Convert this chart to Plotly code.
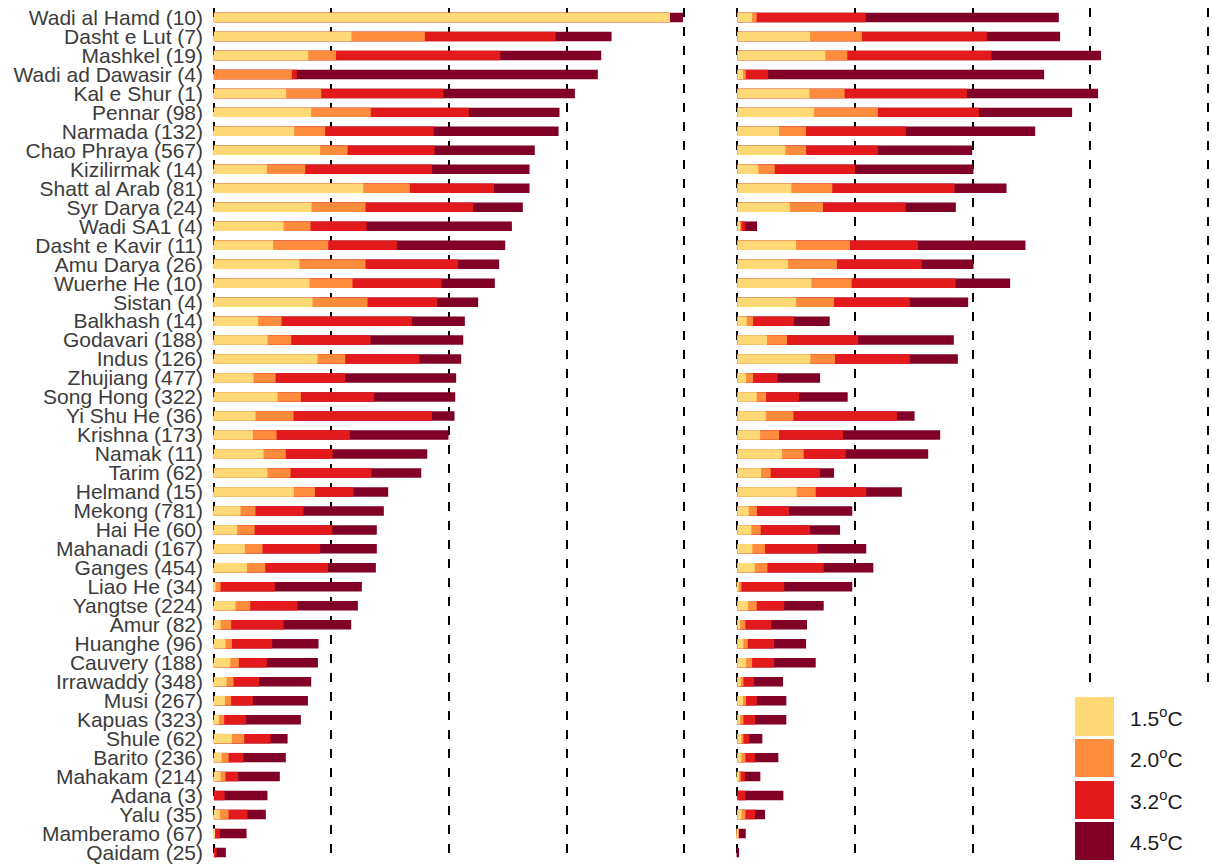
import plotly.graph_objects as go

# Basin names with number of sub-units, top to bottom
basins = [
    "Wadi al Hamd (10)", "Dasht e Lut (7)", "Mashkel (19)", "Wadi ad Dawasir (4)",
    "Kal e Shur (1)", "Pennar (98)", "Narmada (132)", "Chao Phraya (567)",
    "Kizilirmak (14)", "Shatt al Arab (81)", "Syr Darya (24)", "Wadi SA1 (4)",
    "Dasht e Kavir (11)", "Amu Darya (26)", "Wuerhe He (10)", "Sistan (4)",
    "Balkhash (14)", "Godavari (188)", "Indus (126)", "Zhujiang (477)",
    "Song Hong (322)", "Yi Shu He (36)", "Krishna (173)", "Namak (11)",
    "Tarim (62)", "Helmand (15)", "Mekong (781)", "Hai He (60)",
    "Mahanadi (167)", "Ganges (454)", "Liao He (34)", "Yangtse (224)",
    "Amur (82)", "Huanghe (96)", "Cauvery (188)", "Irrawaddy (348)",
    "Musi (267)", "Kapuas (323)", "Shule (62)", "Barito (236)",
    "Mahakam (214)", "Adana (3)", "Yalu (35)", "Mamberamo (67)", "Qaidam (25)",
]

# Left panel: value reached at each warming level
left_15 = [3.88, 1.171, 0.802, 0.0, 0.615, 0.828, 0.683, 0.904, 0.451, 1.270,
           0.831, 0.593, 0.505, 0.729, 0.814, 0.839, 0.377, 0.456, 0.882, 0.337,
           0.542, 0.354, 0.332, 0.422, 0.456, 0.680, 0.227, 0.198, 0.264, 0.281,
           0.014, 0.184, 0.057, 0.099, 0.139, 0.108, 0.094, 0.043, 0.153, 0.065,
           0.057, 0.0, 0.051, 0.006, 0.0]
left_20 = [3.88, 1.795, 1.038, 0.663, 0.913, 1.335, 0.947, 1.137, 0.777, 1.667,
           1.290, 0.822, 0.973, 1.290, 1.179, 1.307, 0.576, 0.658, 1.117, 0.525,
           0.740, 0.678, 0.533, 0.612, 0.652, 0.859, 0.354, 0.346, 0.414, 0.437,
           0.057, 0.309, 0.147, 0.153, 0.213, 0.167, 0.147, 0.088, 0.258, 0.125,
           0.099, 0.0, 0.125, 0.006, 0.0]
left_32 = [3.88, 2.906, 2.436, 0.706, 1.953, 2.169, 1.871, 1.877, 1.857, 2.382,
           2.206, 1.299, 1.559, 2.078, 1.937, 1.900, 1.684, 1.333, 1.749, 1.117,
           1.364, 1.857, 1.157, 1.009, 1.341, 1.188, 0.763, 1.007, 0.904, 0.970,
           0.519, 0.712, 0.593, 0.496, 0.451, 0.386, 0.332, 0.272, 0.482, 0.252,
           0.207, 0.091, 0.286, 0.051, 0.023]
left_45 = [3.99, 3.383, 3.295, 3.266, 3.071, 2.940, 2.932, 2.730, 2.685, 2.685,
           2.628, 2.535, 2.478, 2.427, 2.390, 2.248, 2.135, 2.121, 2.104, 2.061,
           2.053, 2.047, 1.996, 1.815, 1.764, 1.483, 1.446, 1.386, 1.386, 1.378,
           1.259, 1.225, 1.168, 0.890, 0.885, 0.828, 0.800, 0.740, 0.627, 0.612,
           0.561, 0.456, 0.442, 0.278, 0.102]

# Right panel: value reached at each warming level
right_15 = [0.125, 0.618, 0.748, 0.048, 0.612, 0.652, 0.354, 0.408, 0.178, 0.459,
            0.445, 0.023, 0.499, 0.431, 0.629, 0.499, 0.079, 0.252, 0.620, 0.074,
            0.164, 0.244, 0.193, 0.380, 0.201, 0.504, 0.096, 0.119, 0.127, 0.147,
            0.011, 0.091, 0.023, 0.051, 0.074, 0.028, 0.048, 0.023, 0.034, 0.034,
            0.014, 0.0, 0.034, 0.006, 0.0]
right_20 = [0.164, 1.059, 0.935, 0.071, 0.912, 1.195, 0.584, 0.584, 0.317, 0.807,
            0.728, 0.034, 0.958, 0.847, 0.972, 0.822, 0.133, 0.422, 0.830, 0.133,
            0.244, 0.476, 0.354, 0.564, 0.283, 0.666, 0.167, 0.198, 0.235, 0.255,
            0.034, 0.164, 0.068, 0.088, 0.125, 0.051, 0.074, 0.051, 0.051, 0.068,
            0.028, 0.0, 0.068, 0.011, 0.0]
right_32 = [1.091, 2.122, 2.161, 0.261, 1.952, 2.054, 1.433, 1.195, 1.000, 1.847,
            1.431, 0.068, 1.535, 1.567, 1.856, 1.467, 0.482, 1.028, 1.467, 0.340,
            0.524, 1.357, 0.898, 0.921, 0.703, 1.096, 0.439, 0.618, 0.683, 0.734,
            0.399, 0.399, 0.289, 0.312, 0.312, 0.142, 0.167, 0.150, 0.102, 0.150,
            0.065, 0.068, 0.150, 0.011, 0.0]
right_45 = [2.734, 2.745, 3.093, 2.609, 3.068, 2.847, 2.533, 1.997, 2.008, 2.289,
            1.858, 0.167, 2.450, 2.008, 2.320, 1.963, 0.785, 1.841, 1.875, 0.703,
            0.938, 1.507, 1.725, 1.623, 0.822, 1.399, 0.977, 0.873, 1.096, 1.156,
            0.977, 0.734, 0.592, 0.584, 0.666, 0.388, 0.416, 0.416, 0.212, 0.348,
            0.195, 0.391, 0.235, 0.071, 0.014]

levels = ["1.5", "2.0", "3.2", "4.5"]
colors = {"1.5": "#FED976", "2.0": "#FD8D3C", "3.2": "#E31A1C", "4.5": "#800026"}

panels = {
    "": {"1.5": left_15, "2.0": left_20, "3.2": left_32, "4.5": left_45},
    "2": {"1.5": right_15, "2.0": right_20, "3.2": right_32, "4.5": right_45},
}

fig = go.Figure()
for suffix, series in panels.items():
    # largest warming level first so the smaller values sit on top
    for lvl in reversed(levels):
        fig.add_trace(go.Bar(
            x=series[lvl], y=basins, orientation="h",
            marker=dict(color=colors[lvl], line=dict(width=0)),
            width=0.5, name=lvl + "°C", showlegend=False,
            xaxis="x" + suffix, yaxis="y" + suffix,
        ))

xaxis_style = dict(
    range=[-0.05, 4.02], tickvals=[0, 1, 2, 3, 4], showticklabels=False,
    showgrid=True, gridcolor="#000000", gridwidth=1.6, griddash="9px,10px",
    zeroline=False, showline=False, ticks="",
)

fig.update_layout(
    width=1212, height=865,
    margin=dict(l=208, r=2, t=8, b=3),
    paper_bgcolor="white", plot_bgcolor="white",
    barmode="overlay",
    xaxis=dict(domain=[0, 0.4775], anchor="y", **xaxis_style),
    xaxis2=dict(domain=[0.5225, 1.0], anchor="y2", **xaxis_style),
    yaxis=dict(
        categoryorder="array", categoryarray=basins, range=[44.5, -0.5],
        tickmode="array", tickvals=basins, ticktext=basins,
        showgrid=False, zeroline=False, ticks="", anchor="x", ticklabelstandoff=4,
        tickfont=dict(family="Liberation Sans, Arial, sans-serif", size=21, color="#3c3c3c"),
    ),
    yaxis2=dict(
        categoryorder="array", categoryarray=basins, range=[44.5, -0.5],
        showgrid=False, zeroline=False, ticks="", showticklabels=False, anchor="x2",
    ),
)

# Legend box drawn by hand: white panel, large colour keys and labels
shapes = [dict(type="rect", xref="paper", yref="paper", x0=0.852, x1=1.01,
               y0=-0.01, y1=0.2037, fillcolor="white", line=dict(width=0), layer="above")]
key_boxes = [(0.1475, 0.1932), (0.0995, 0.1440), (0.0504, 0.0948), (0.0023, 0.0468)]
annotations = []
for lvl, (y0, y1) in zip(levels, key_boxes):
    shapes.append(dict(type="rect", xref="paper", yref="paper", x0=0.8653, x1=0.9042,
                       y0=y0, y1=y1, fillcolor=colors[lvl], line=dict(width=0), layer="above"))
    annotations.append(dict(
        xref="paper", yref="paper", x=0.9182, y=(y0 + y1) / 2, xanchor="left", yanchor="middle",
        text=lvl + "<sup>o</sup>C", showarrow=False,
        font=dict(family="Liberation Sans, Arial, sans-serif", size=21, color="#1a1a1a"),
    ))

fig.update_layout(shapes=shapes, annotations=annotations)

fig.write_html("out.html")
